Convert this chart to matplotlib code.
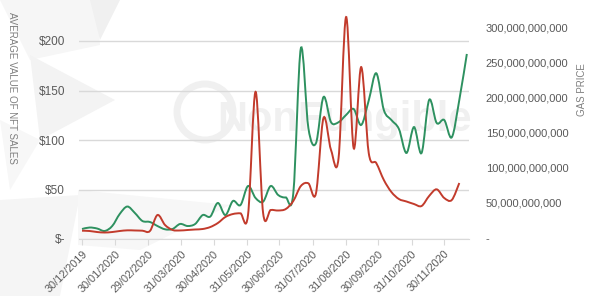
import matplotlib
matplotlib.use("Agg")
import matplotlib.pyplot as plt
import matplotlib.ticker as mticker
import matplotlib.dates as mdates
import numpy as np
import pandas as pd
from matplotlib.path import Path
from matplotlib.patches import PathPatch, Polygon, Ellipse

# weekly points, starting Monday 30/12/2019
weeks = pd.date_range("2019-12-30", periods=52, freq="7D")

# average value of NFT sales, $ (left axis)
nft_avg_value = [10.1, 11.6, 10.6, 8.1, 13.1, 25.3, 32.8, 26.3, 18.2, 17.2,
                 13.1, 9.8, 10.1, 15.2, 13.1, 15.2, 24.2, 22.7, 36.4, 24.2,
                 38.4, 34.3, 53.5, 41.4, 37.7, 53.5, 44.4, 42.0, 46.2, 192.6,
                 112.0, 96.7, 143.4, 118.0, 118.0, 125.3, 131.3, 115.2, 140.0, 167.4,
                 130.3, 120.2, 111.1, 86.9, 113.1, 86.9, 140.4, 117.2, 120.2, 102.7,
                 140.4, 186.9]

# gas price (right axis), one week shorter
gas_price = [10.4, 9.95, 8.5, 7.8, 8.5, 9.95, 10.9, 10.7, 10.4, 9.95,
             32.7, 18.5, 11.4, 10.7, 11.4, 12.1, 12.8, 15.6, 21.3, 29.9,
             34.1, 35.1, 32.7, 207.9, 35.5, 39.8, 39.1, 41.2, 52.6, 73.9,
             77.7, 63.3, 170.6, 125.1, 113.7, 314.3, 127.8, 243.1, 120.7, 106.5,
             82.5, 65.4, 55.4, 51.9, 48.3, 45.5, 59.7, 69.2, 56.9, 54.0,
             78.2]
gas_price = [v * 1e9 for v in gas_price]

tick_dates = ["2019-12-30", "2020-01-30", "2020-02-29", "2020-03-31", "2020-04-30",
              "2020-05-31", "2020-06-30", "2020-07-31", "2020-08-31", "2020-09-30",
              "2020-10-31", "2020-11-30"]

GREEN = "#2e9160"
RED = "#c23b2c"
TXT = "#595959"
GRID = "#d9d9d9"
plt.rcParams["font.family"] = ["Liberation Sans", "DejaVu Sans"]


def smooth_path(x, y):
    # excel style smoothing: cubic bezier through every point
    x = np.asarray(x, float)
    y = np.asarray(y, float)
    verts = [(x[0], y[0])]
    codes = [Path.MOVETO]
    n = len(x)
    for i in range(n - 1):
        i0 = max(i - 1, 0)
        i3 = min(i + 2, n - 1)
        c1 = (x[i] + (x[i + 1] - x[i0]) / 6, y[i] + (y[i + 1] - y[i0]) / 6)
        c2 = (x[i + 1] - (x[i3] - x[i]) / 6, y[i + 1] - (y[i3] - y[i]) / 6)
        verts += [c1, c2, (x[i + 1], y[i + 1])]
        codes += [Path.CURVE4] * 3
    return Path(verts, codes)


fig = plt.figure(figsize=(6, 2.96), dpi=100)

# faint background decoration (watermark)
W, H = 600, 296
for pts, c in [([(0, 0), (95, 0), (100, 45), (30, 60)], "#f6f6f6"),
               ([(30, 55), (115, 100), (40, 140)], "#f3f3f3"),
               ([(90, 0), (120, 0), (100, 40)], "#f0f0f0"),
               ([(0, 200), (80, 195), (60, 296), (0, 296)], "#f5f5f5"),
               ([(78, 190), (230, 205), (140, 250), (78, 245)], "#f7f7f7"),
               ([(0, 120), (40, 140), (10, 190)], "#f7f7f7")]:
    fig.patches.append(Polygon([(px / W, 1 - py / H) for px, py in pts], closed=True,
                               transform=fig.transFigure, facecolor=c, edgecolor="none", zorder=-10))
fig.patches.append(Ellipse((205 / W, 1 - 112 / H), 56 / W, 56 / H, transform=fig.transFigure,
                           facecolor="none", edgecolor="#f0f0f0", lw=5, zorder=-5))
fig.text(345 / W, 1 - 120 / H, "NonFungible", fontsize=30, color="#f0f0f0",
         ha="center", va="center", fontweight="bold", zorder=-5)

ax = fig.add_axes([79 / W, 57 / H, 390 / W, 247.5 / H])
ax.set_facecolor("none")
ax2 = ax.twinx()

xd = mdates.date2num(weeks)
ax.add_patch(PathPatch(smooth_path(xd, nft_avg_value), facecolor="none", edgecolor=GREEN, lw=1.4))
ax2.add_patch(PathPatch(smooth_path(xd[:len(gas_price)], gas_price), facecolor="none", edgecolor=RED, lw=1.4))

start = mdates.date2num(pd.Timestamp("2019-12-30"))
ax.set_xlim(start - 2.8, start + 359)
ax.set_ylim(0, 250)
ax2.set_ylim(-1.42e9, 350.5e9)

ax.set_yticks([0, 50, 100, 150, 200])
ax.yaxis.set_major_formatter(mticker.FuncFormatter(lambda v, p: "$-" if v == 0 else f"${v:.0f}"))
ax2.set_yticks(np.arange(0, 301e9, 50e9))
ax2.yaxis.set_major_formatter(mticker.FuncFormatter(lambda v, p: "-" if v == 0 else f"{v:,.0f}"))

ax.set_xticks(mdates.date2num(pd.to_datetime(tick_dates)))
ax.set_xticklabels([pd.Timestamp(d).strftime("%d/%m/%Y") for d in tick_dates],
                   rotation=45, ha="right", rotation_mode="anchor")

ax.grid(axis="y", color=GRID, lw=1)
ax.set_axisbelow(True)
for a in (ax, ax2):
    for s in a.spines.values():
        s.set_visible(False)
ax.spines["bottom"].set_visible(True)
ax.spines["bottom"].set_color(GRID)
ax.tick_params(axis="y", length=0, pad=10, labelsize=8.5, labelcolor=TXT)
ax2.tick_params(axis="y", length=0, pad=12, labelsize=8, labelcolor=TXT)
ax.tick_params(axis="x", length=4, color=GRID, pad=3, labelsize=7.8, labelcolor=TXT)

fig.text(12 / W, 1 - 88 / H, "AVERAGE VALUE OF NFT SALES", rotation=270, ha="center", va="center",
         fontsize=7, color="#7f7f7f")
fig.text(582 / W, 1 - 90 / H, "GAS PRICE", rotation=90, ha="center", va="center",
         fontsize=7, color="#7f7f7f")

fig.savefig("out.png", dpi=100)
